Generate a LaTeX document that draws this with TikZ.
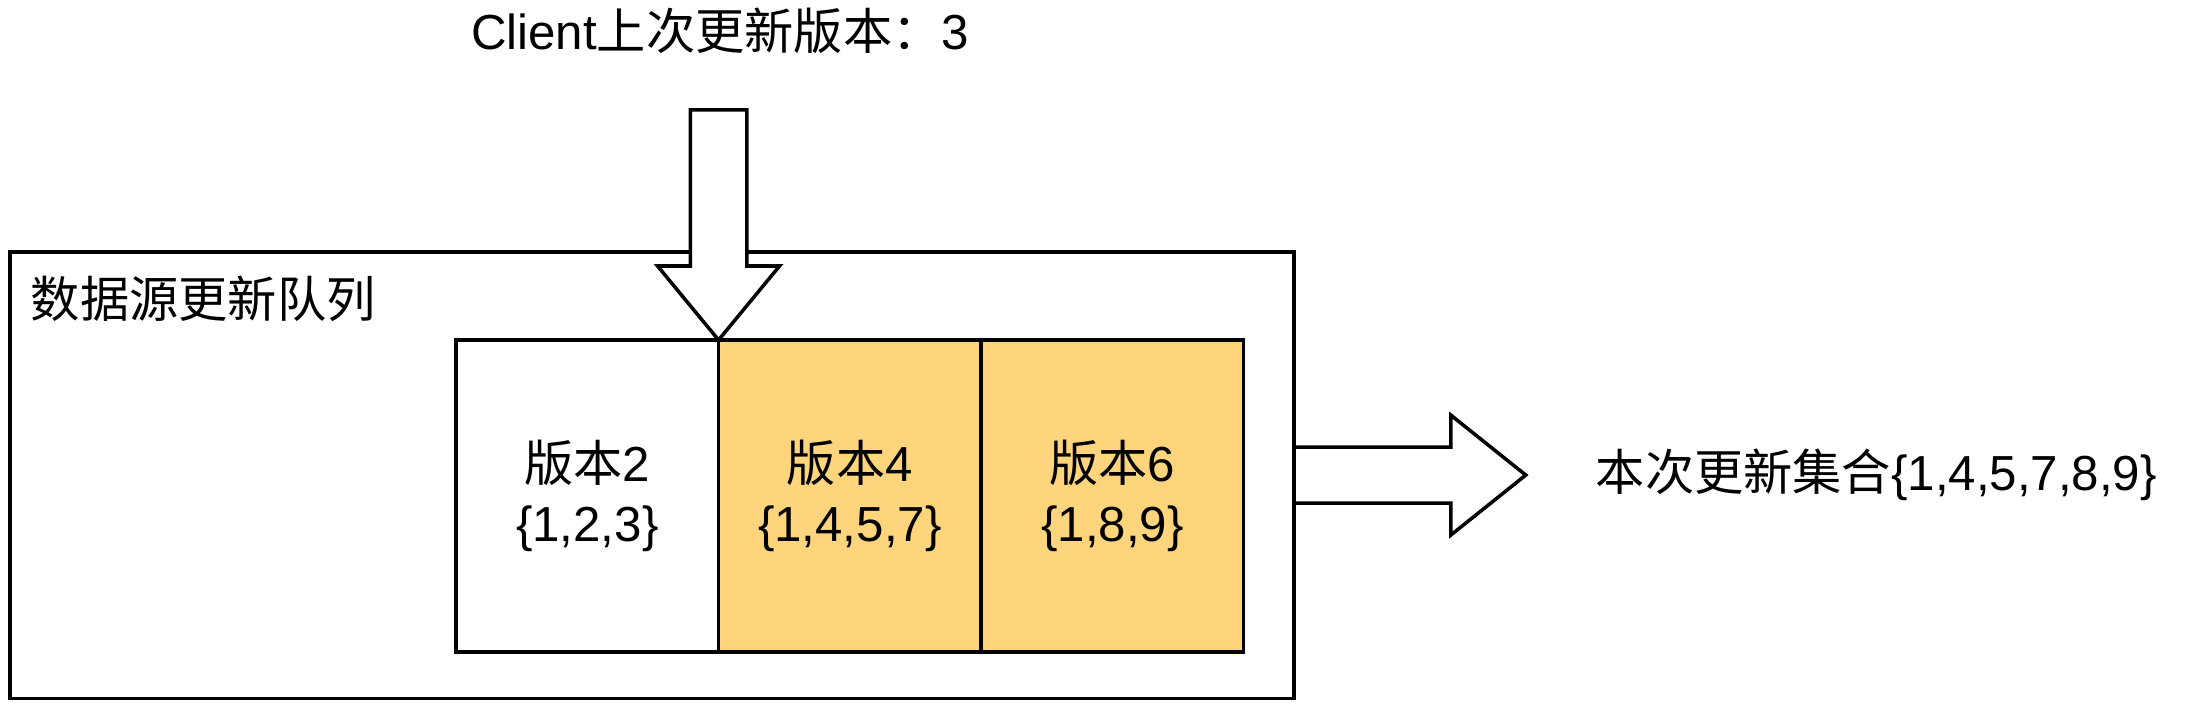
\documentclass[tikz,border=0pt]{standalone}
\usepackage{fontspec}
\setmainfont{Liberation Sans}
\newfontfamily\cjk{Noto Sans CJK SC}
\usetikzlibrary{positioning}
\definecolor{newver}{RGB}{254,212,124}

\begin{document}
\begin{tikzpicture}[x=0.01cm, y=-0.01cm, line width=1pt,
        every node/.append style={font=\fontsize{14}{17}\selectfont}]
      \tikzstyle{ver} = [draw, minimum width=2.624cm, minimum height=3.12cm, inner sep=0pt, outer sep=0pt, align=center]
      \tikzstyle{label} = [inner sep=0pt, outer sep=0pt]
      \tikzstyle{bigarrow} = [draw, line join=miter]
      \useasboundingbox (0,0) rectangle (2204,704);
      \node (queue) [draw, anchor=north west, minimum width=12.83cm, minimum height=4.46cm, inner sep=0pt, outer sep=0pt] at (10,252) {};
      \node (queuename) [label, anchor=west] at (31,299) {\cjk 数据源更新队列};
      \node (v2) [ver, anchor=north west] at (456,340) {{\cjk 版本}2\\\{1,2,3\}};
      \node (v4) [ver, fill=newver, right=0pt of v2] {{\cjk 版本}4\\\{1,4,5,7\}};
      \node (v6) [ver, fill=newver, right=0pt of v4] {{\cjk 版本}6\\\{1,8,9\}};
      % arrow into the queue
      \draw[bigarrow, fill=white] (v2.north east) -- ++(-61,-74) -- ++(32.7,0) -- ++(0,-156) coordinate (intop)
        -- ++(56.6,0) -- ++(0,156) -- ++(32.7,0) -- cycle;
      \node (client) [label] at (720,31) {Client{\cjk 上次更新版本：}3};
      % arrow out of the queue
      \draw[bigarrow] ([yshift=0.28cm]queue.east) -- ++(157,0) -- ++(0,-32) -- ++(75,60) coordinate (outtip)
        -- ++(-75,60) -- ++(0,-32) -- ++(-157,0);
      \node (result) [label, right=0.7cm of outtip] {{\cjk 本次更新集合}\{1,4,5,7,8,9\}};
    \end{tikzpicture}
\end{document}
